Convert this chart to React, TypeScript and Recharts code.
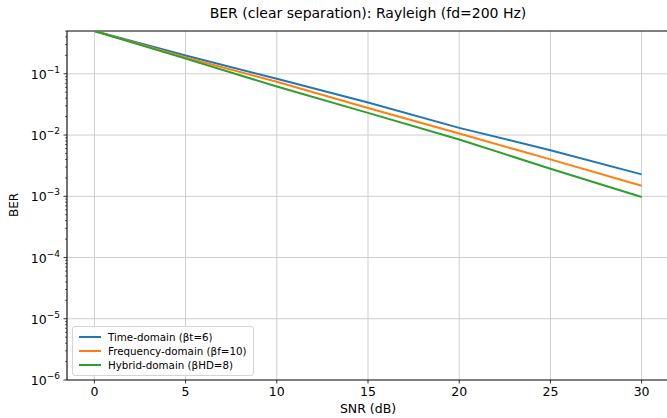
import React from 'react';
import { LineChart, Line, XAxis, YAxis, CartesianGrid, ReferenceLine } from 'recharts';

const snrDb = [0, 5, 10, 15, 20, 25, 30];
const timeDomainBer = [0.5, 0.199, 0.083, 0.034, 0.0131, 0.00566, 0.00228];
const freqDomainBer = [0.5, 0.185, 0.074, 0.0277, 0.0106, 0.004, 0.00149];
const hybridDomainBer = [0.5, 0.177, 0.062, 0.023, 0.00845, 0.00282, 0.000975];

const xTicks = [0, 5, 10, 15, 20, 25, 30];
const majorExps = [-6, -5, -4, -3, -2, -1];

const series = [
  { key: 'time', name: 'Time-domain (βt=6)', color: '#1f77b4' },
  { key: 'freq', name: 'Frequency-domain (βf=10)', color: '#ff7f0e' },
  { key: 'hybrid', name: 'Hybrid-domain (βHD=8)', color: '#2ca02c' },
];

const FONT = '"DejaVu Sans", sans-serif';
const PLOT_LEFT = 67;

const data = snrDb.map((snr, i) => ({
  snr,
  time: timeDomainBer[i],
  freq: freqDomainBer[i],
  hybrid: hybridDomainBer[i],
}));

// major + minor log ticks, up to the top of the axis (0.5)
const yTicks: number[] = [];
majorExps.forEach((e) => {
  for (let m = 1; m <= 9; m++) {
    const v = m * Math.pow(10, e);
    if (v <= 0.5 + 1e-9) yTicks.push(v);
  }
});

function LogTick(props: any) {
  const { y, payload } = props;
  const v = payload.value;
  const lg = Math.log10(v);
  const major = Math.abs(lg - Math.round(lg)) < 1e-6;
  if (!major) {
    return <line x1={PLOT_LEFT - 2} x2={PLOT_LEFT} y1={y} y2={y} stroke="#000" strokeWidth={0.6} />;
  }
  return (
    <g>
      <line x1={PLOT_LEFT - 3.5} x2={PLOT_LEFT} y1={y} y2={y} stroke="#000" strokeWidth={0.8} />
      <text x={PLOT_LEFT - 7} y={y + 5} textAnchor="end" fontFamily={FONT} fontSize={12.5} fill="#000">
        10<tspan dy={-6} fontSize={9}>{'−' + Math.abs(Math.round(lg))}</tspan>
      </text>
    </g>
  );
}

function LegendBox() {
  return (
    <div
      style={{
        position: 'absolute',
        left: 72,
        top: 326,
        border: '1px solid #d4d4d4',
        borderRadius: 3,
        background: 'rgba(255,255,255,0.85)',
        padding: '3px 6px 3px 6px',
        fontFamily: FONT,
        fontSize: 10.3,
        color: '#000',
        lineHeight: '14px',
      }}
    >
      {series.map((s) => (
        <div key={s.key} style={{ display: 'flex', alignItems: 'center' }}>
          <div style={{ width: 22, height: 2, background: s.color, marginRight: 7 }} />
          <span>{s.name}</span>
        </div>
      ))}
    </div>
  );
}

export default function App() {
  return (
    <div style={{ position: 'fixed', left: 0, top: 0, width: 667, height: 418, overflow: 'hidden', background: '#fff' }}>
      <div
        style={{
          position: 'absolute',
          left: 68,
          width: 600,
          top: 5,
          textAlign: 'center',
          fontFamily: FONT,
          fontSize: 14,
          color: '#000',
        }}
      >
        BER (clear separation): Rayleigh (fd=200 Hz)
      </div>
      <div
        style={{
          position: 'absolute',
          left: 14,
          top: 205,
          transform: 'translate(-50%, -50%) rotate(-90deg)',
          fontFamily: FONT,
          fontSize: 12,
          color: '#000',
        }}
      >
        BER
      </div>
      <div
        style={{
          position: 'absolute',
          left: 68,
          width: 600,
          top: 401,
          textAlign: 'center',
          fontFamily: FONT,
          fontSize: 12.5,
          color: '#000',
        }}
      >
        SNR (dB)
      </div>
      <LineChart width={672} height={418} data={data} margin={{ top: 31, right: 3, bottom: 8, left: 0 }}>
        <CartesianGrid horizontal={false} stroke="#cfcfcf" strokeWidth={1} />
        {majorExps.slice(1).map((e) => (
          <ReferenceLine key={e} y={Math.pow(10, e)} stroke="#cfcfcf" strokeWidth={1} />
        ))}
        <ReferenceLine y={0.5} stroke="#000" strokeWidth={1} />
        <XAxis
          dataKey="snr"
          type="number"
          domain={[-1.5, 31.5]}
          ticks={xTicks}
          interval={0}
          height={30}
          tickSize={3.5}
          tickMargin={4}
          axisLine={{ stroke: '#000', strokeWidth: 1 }}
          tickLine={{ stroke: '#000', strokeWidth: 0.8 }}
          tick={{ fontFamily: FONT, fontSize: 12.5, fill: '#000' }}
        />
        <YAxis
          scale="log"
          type="number"
          domain={[1e-6, 0.5]}
          allowDataOverflow
          ticks={yTicks}
          interval={0}
          width={67}
          tickLine={false}
          axisLine={{ stroke: '#000', strokeWidth: 1 }}
          tick={<LogTick />}
        />
        {series.map((s) => (
          <Line
            key={s.key}
            dataKey={s.key}
            name={s.name}
            stroke={s.color}
            strokeWidth={2}
            dot={false}
            type="linear"
            isAnimationActive={false}
          />
        ))}
      </LineChart>
      <LegendBox />
    </div>
  );
}
